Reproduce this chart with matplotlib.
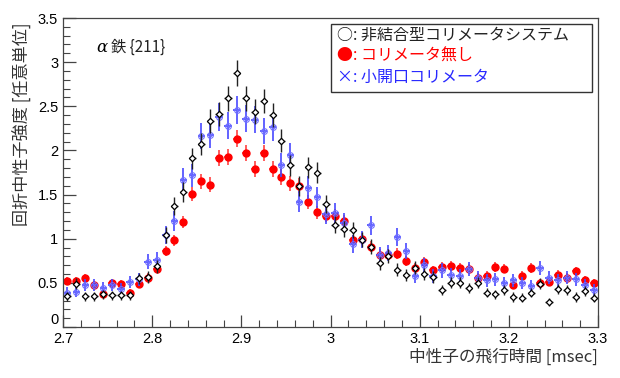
import numpy as np
import matplotlib
matplotlib.use("Agg")
import matplotlib.pyplot as plt
from matplotlib.ticker import MultipleLocator, FuncFormatter, FormatStrFormatter
from matplotlib.patches import Rectangle

plt.rcParams['font.family'] = ['Liberation Sans', 'DejaVu Sans']
JP = ['Noto Sans CJK JP', 'DejaVu Sans']

# bin centres of the time-of-flight histogram [msec]
tof = np.round(np.arange(2.705, 3.3, 0.01), 3)

# 非結合型コリメータシステム (black, open)
y_sys = [0.35, 0.49, 0.35, 0.35, 0.37, 0.36, 0.36, 0.36, 0.55, 0.57,
         0.69, 1.04, 1.37, 1.53, 1.91, 2.07, 2.33, 2.41, 2.59, 2.88,
         2.59, 2.44, 2.56, 2.40, 2.11, 1.83, 1.60, 1.81, 1.75, 1.39,
         1.16, 1.11, 1.10, 0.99, 0.91, 0.72, 0.80, 0.65, 0.59, 0.67,
         0.60, 0.57, 0.42, 0.50, 0.50, 0.44, 0.50, 0.39, 0.37, 0.42,
         0.34, 0.33, 0.39, 0.49, 0.28, 0.43, 0.42, 0.34, 0.41, 0.33]

# コリメータ無し (red, filled)
y_none = [0.52, 0.52, 0.55, 0.48, 0.37, 0.50, 0.49, 0.39, 0.49, 0.56,
          0.66, 0.86, 0.98, 1.19, 1.51, 1.65, 1.61, 1.91, 1.93, 2.13,
          1.97, 1.79, 1.97, 1.79, 1.70, 1.63, 1.60, 1.42, 1.30, 1.26,
          1.26, 1.20, 0.98, 1.00, 0.91, 0.82, 0.82, 0.83, 0.75, 0.67,
          0.74, 0.64, 0.68, 0.69, 0.67, 0.66, 0.56, 0.58, 0.68, 0.66,
          0.48, 0.58, 0.67, 0.50, 0.51, 0.59, 0.56, 0.63, 0.53, 0.50]

# 小開口コリメータ (blue, cross)
y_small = [0.39, 0.40, 0.48, 0.48, 0.44, 0.48, 0.43, 0.51, 0.54, 0.74,
           0.76, 1.04, 1.20, 1.67, 1.72, 2.16, 2.18, 2.38, 2.28, 2.46,
           2.36, 2.35, 2.22, 2.26, 1.84, 1.95, 1.42, 1.58, 1.47, 1.28,
           1.29, 1.18, 0.94, 0.99, 1.15, 0.82, 0.84, 1.02, 0.86, 0.58,
           0.70, 0.58, 0.64, 0.59, 0.58, 0.66, 0.56, 0.53, 0.54, 0.50,
           0.53, 0.50, 0.46, 0.67, 0.56, 0.53, 0.56, 0.54, 0.48, 0.42]

y_sys = np.array(y_sys)
y_none = np.array(y_none)
y_small = np.array(y_small)

# counting errors, scale
e_sys = 0.088 * np.sqrt(y_sys)
e_none = 0.066 * np.sqrt(y_none)
e_small = 0.10 * np.sqrt(y_small)
xerr = 0.004

fig = plt.figure(figsize=(6.2, 3.78), dpi=100)
ax = fig.add_axes([63 / 620, 1 - 327 / 378, 535 / 620, 309 / 378])

ax.errorbar(tof, y_none, yerr=e_none, xerr=xerr, fmt='o', ms=5,
            color='#ff0000', ecolor='#ff5050', elinewidth=1.3, capsize=0,
            zorder=2)
ax.errorbar(tof, y_small, yerr=e_small, xerr=xerr, fmt='o', ms=4.2,
            mfc='none', mec='#7070ff', mew=0.7, ecolor='#4848ff',
            elinewidth=1.2, capsize=0, zorder=3)
ax.plot(tof, y_small, 'x', ms=3.2, color='#7070ff', mew=0.7, zorder=3)
ax.errorbar(tof, y_sys, yerr=e_sys, xerr=xerr, fmt='D', ms=3.2,
            mfc='white', mec='black', mew=0.9, ecolor='#222222',
            elinewidth=1.0, capsize=0, zorder=4)

ax.set_xlim(2.7, 3.3)
ax.set_ylim(0, 3.5)
ax.xaxis.set_major_locator(MultipleLocator(0.1))
ax.xaxis.set_minor_locator(MultipleLocator(0.02))
ax.yaxis.set_major_locator(MultipleLocator(0.5))
ax.yaxis.set_minor_locator(MultipleLocator(0.1))
ax.xaxis.set_major_formatter(FormatStrFormatter('%g'))
# "0" is drawn separately, a little above the corner like the original
ax.yaxis.set_major_formatter(FuncFormatter(lambda v, p: '' if abs(v) < 1e-9 else '%g' % v))
ax.tick_params(which='both', direction='in', top=False, right=False,
               labelsize=10.5, color='#444444')
ax.tick_params(which='major', length=9, width=0.9)
ax.tick_params(which='minor', length=5, width=0.8)
for sp in ax.spines.values():
    sp.set_color('#444444')
    sp.set_linewidth(0.9)

fig.text(59 / 620, 1 - 320 / 378, '0', ha='right', va='center', fontsize=10.5)

fig.text(22 / 620, 1 - 22 / 378, '回折中性子強度 [任意単位]', rotation=90,
         ha='center', va='top', fontsize=12.3, family=JP, color='#333333')
fig.text(598 / 620, 1 - 357 / 378, '中性子の飛行時間 [msec]',
         ha='right', va='center', fontsize=12, family=JP, color='#333333')

# sample label
fig.text(96 / 620, 1 - 47 / 378, 'α', style='italic', family='DejaVu Serif',
         ha='left', va='center', fontsize=12)
fig.text(111 / 620, 1 - 47 / 378, '鉄 {211}', ha='left', va='center',
         fontsize=11, family=JP, color='#222222')

# legend box
fig.patches.append(Rectangle((331 / 620, 1 - 92 / 378), 261 / 620, 68 / 378,
                             transform=fig.transFigure, facecolor='white',
                             edgecolor='#333333', linewidth=1.0, zorder=5))
legend_lines = ['○: 非結合型コリメータシステム', '●: コリメータ無し', '×: 小開口コリメータ']
legend_colors = ['#222222', '#ff0000', '#2828ff']
for k, (txt, col) in enumerate(zip(legend_lines, legend_colors)):
    fig.text(337 / 620, 1 - (35 + 21 * k) / 378, txt, ha='left', va='center',
             fontsize=11.5, family=JP, color=col, zorder=6)

fig.savefig('out.png', dpi=100)
